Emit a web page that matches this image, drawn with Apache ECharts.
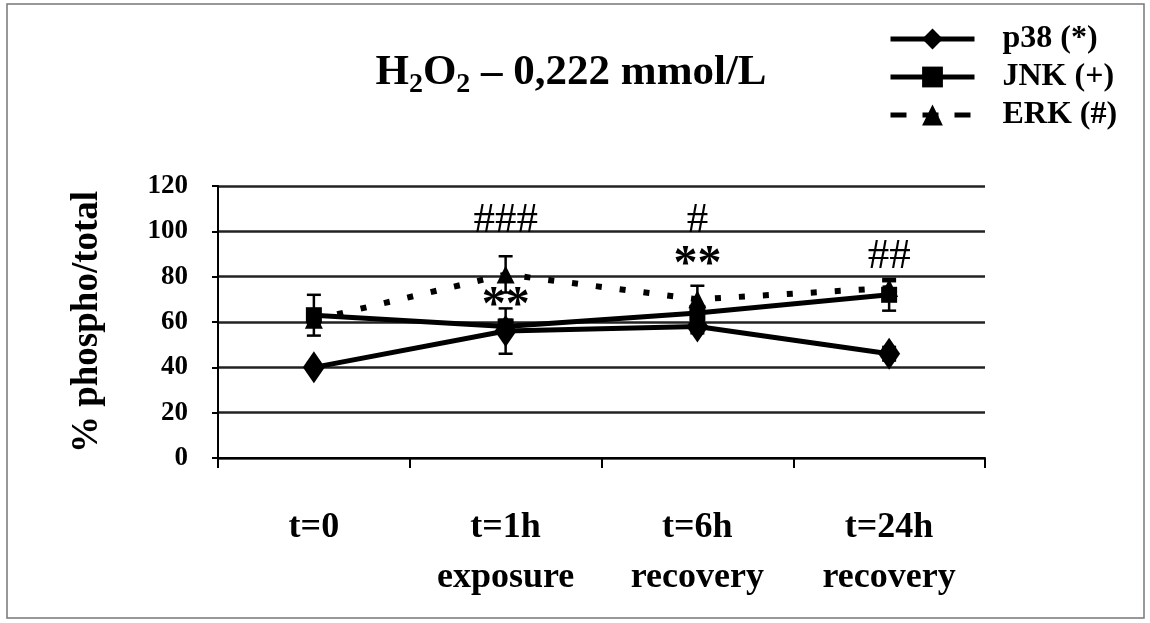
<!DOCTYPE html>
<html>
<head>
<meta charset="utf-8">
<script src="https://cdn.jsdelivr.net/npm/echarts@6/dist/echarts.min.js"></script>
<style>html,body{margin:0;padding:0;background:#fff}#c{width:1150px;height:623px}</style>
</head>
<body>
<div id="c"></div>
<script>
const categories = ['t=0', 't=1h\nexposure', 't=6h\nrecovery', 't=24h\nrecovery'];
const p38 = [40, 56, 58, 46];
const jnk = [63, 58, 64, 72];
const erk = [61, 81, 70, 75];
const p38Err = [2, 10, 3, 3];
const jnkErr = [9, 3, 3, 7];
const erkErr = [2, 8, 6, 3];
const annotations = [[1, 104.5, '###'], [1, 67, '**'], [2, 104.5, '#'], [2, 85, '**'], [3, 89, '##']];
const yMin = 0, yMax = 120, yInterval = 20;

const FONT = 'Liberation Serif';
function errData(vals, errs) {
  return vals.map((v, i) => [i, v - errs[i], v + errs[i]]);
}
const errAll = [].concat(errData(p38, p38Err), errData(jnk, jnkErr), errData(erk, erkErr));

const chart = echarts.init(document.getElementById('c'));
chart.setOption({
  animation: false,
  title: {
    text: '{a|H}{s|2}{a|O}{s|2}{a| – 0,222 mmol/L}',
    left: 566, top: 46, textAlign: 'center',
    textStyle: {
      rich: {
        a: {fontFamily: FONT, fontWeight: 'bold', fontSize: 43, color: '#000', lineHeight: 50, verticalAlign: 'top'},
        s: {fontFamily: FONT, fontWeight: 'bold', fontSize: 28, color: '#000', lineHeight: 50, verticalAlign: 'top', padding: [20, 0, 0, 0]}
      }
    }
  },
  legend: {
    orient: 'vertical', left: 883, top: 18,
    itemWidth: 84, itemHeight: 26, itemGap: 6,
    textStyle: {fontFamily: FONT, fontWeight: 'bold', fontSize: 32, color: '#000', padding: [0, 0, 0, 23], lineHeight: 26},
    data: [
      {name: 'p38 (*)', lineStyle: {width: 5}},
      {name: 'JNK (+)', lineStyle: {width: 5}},
      {name: 'ERK (#)', lineStyle: {type: [16, 16], width: 5}}
    ]
  },
  graphic: [{
    type: 'rect', shape: {x: 7, y: 4, width: 1137, height: 614},
    style: {fill: 'none', stroke: '#777', lineWidth: 1.5}, silent: true
  }],
  grid: {left: 218, right: 165, top: 186, bottom: 165},
  xAxis: {
    type: 'category', data: categories, boundaryGap: true,
    axisLine: {lineStyle: {color: '#000', width: 2}},
    axisTick: {show: true, length: 10, interval: 0, lineStyle: {color: '#000', width: 2}},
    axisLabel: {
      interval: 0, margin: 45, verticalAlign: 'top', lineHeight: 50,
      fontFamily: FONT, fontWeight: 'bold', fontSize: 36, color: '#000'
    }
  },
  yAxis: {
    type: 'value', min: yMin, max: yMax, interval: yInterval,
    name: '% phospho/total', nameLocation: 'middle', nameGap: 112,
    nameTextStyle: {fontFamily: FONT, fontWeight: 'bold', fontSize: 37, color: '#000'},
    axisLine: {show: true, lineStyle: {color: '#000', width: 2}},
    axisTick: {show: true, length: 6, lineStyle: {color: '#000', width: 2}},
    axisLabel: {margin: 30, fontFamily: FONT, fontWeight: 'bold', fontSize: 27, color: '#000'},
    splitLine: {lineStyle: {color: '#222', width: 2.5}}
  },
  series: [
    {
      type: 'custom', name: 'err', z: 1, silent: true,
      data: errAll,
      renderItem: function (params, api) {
        const x = api.value(0);
        const lo = api.coord([x, api.value(1)]);
        const hi = api.coord([x, api.value(2)]);
        const w = 7;
        const st = {stroke: '#000', lineWidth: 2.5};
        return {type: 'group', children: [
          {type: 'line', shape: {x1: lo[0], y1: lo[1], x2: hi[0], y2: hi[1]}, style: st},
          {type: 'line', shape: {x1: hi[0] - w, y1: hi[1], x2: hi[0] + w, y2: hi[1]}, style: st},
          {type: 'line', shape: {x1: lo[0] - w, y1: lo[1], x2: lo[0] + w, y2: lo[1]}, style: st}
        ]};
      }
    },
    {
      type: 'line', name: 'ERK (#)', data: erk, z: 3,
      symbol: 'triangle', symbolSize: 18,
      itemStyle: {color: '#000'},
      lineStyle: {color: '#000', width: 6, type: [6, 18], cap: 'butt'}
    },
    {
      type: 'line', name: 'JNK (+)', data: jnk, z: 4,
      symbol: 'rect', symbolSize: 16,
      itemStyle: {color: '#000'},
      lineStyle: {color: '#000', width: 5}
    },
    {
      type: 'line', name: 'p38 (*)', data: p38, z: 5,
      symbol: 'diamond', symbolSize: [22, 32],
      itemStyle: {color: '#000'},
      lineStyle: {color: '#000', width: 5}
    },
    {
      type: 'scatter', name: 'annot', z: 6, silent: true,
      symbolSize: 0,
      itemStyle: {opacity: 1},
      data: annotations.map(a => ({value: [a[0], a[1]], txt: a[2]})),
      label: {
        show: true, position: 'inside',
        fontFamily: FONT, color: '#000',
        formatter: p => p.data.txt.indexOf('*') >= 0 ? '{st|' + p.data.txt + '}' : '{h|' + p.data.txt + '}',
        rich: {
          st: {fontFamily: FONT, fontSize: 48, fontWeight: 'bold', color: '#000'},
          h: {fontFamily: FONT, fontSize: 43, color: '#000'}
        }
      }
    }
  ]
});
</script>
</body>
</html>
